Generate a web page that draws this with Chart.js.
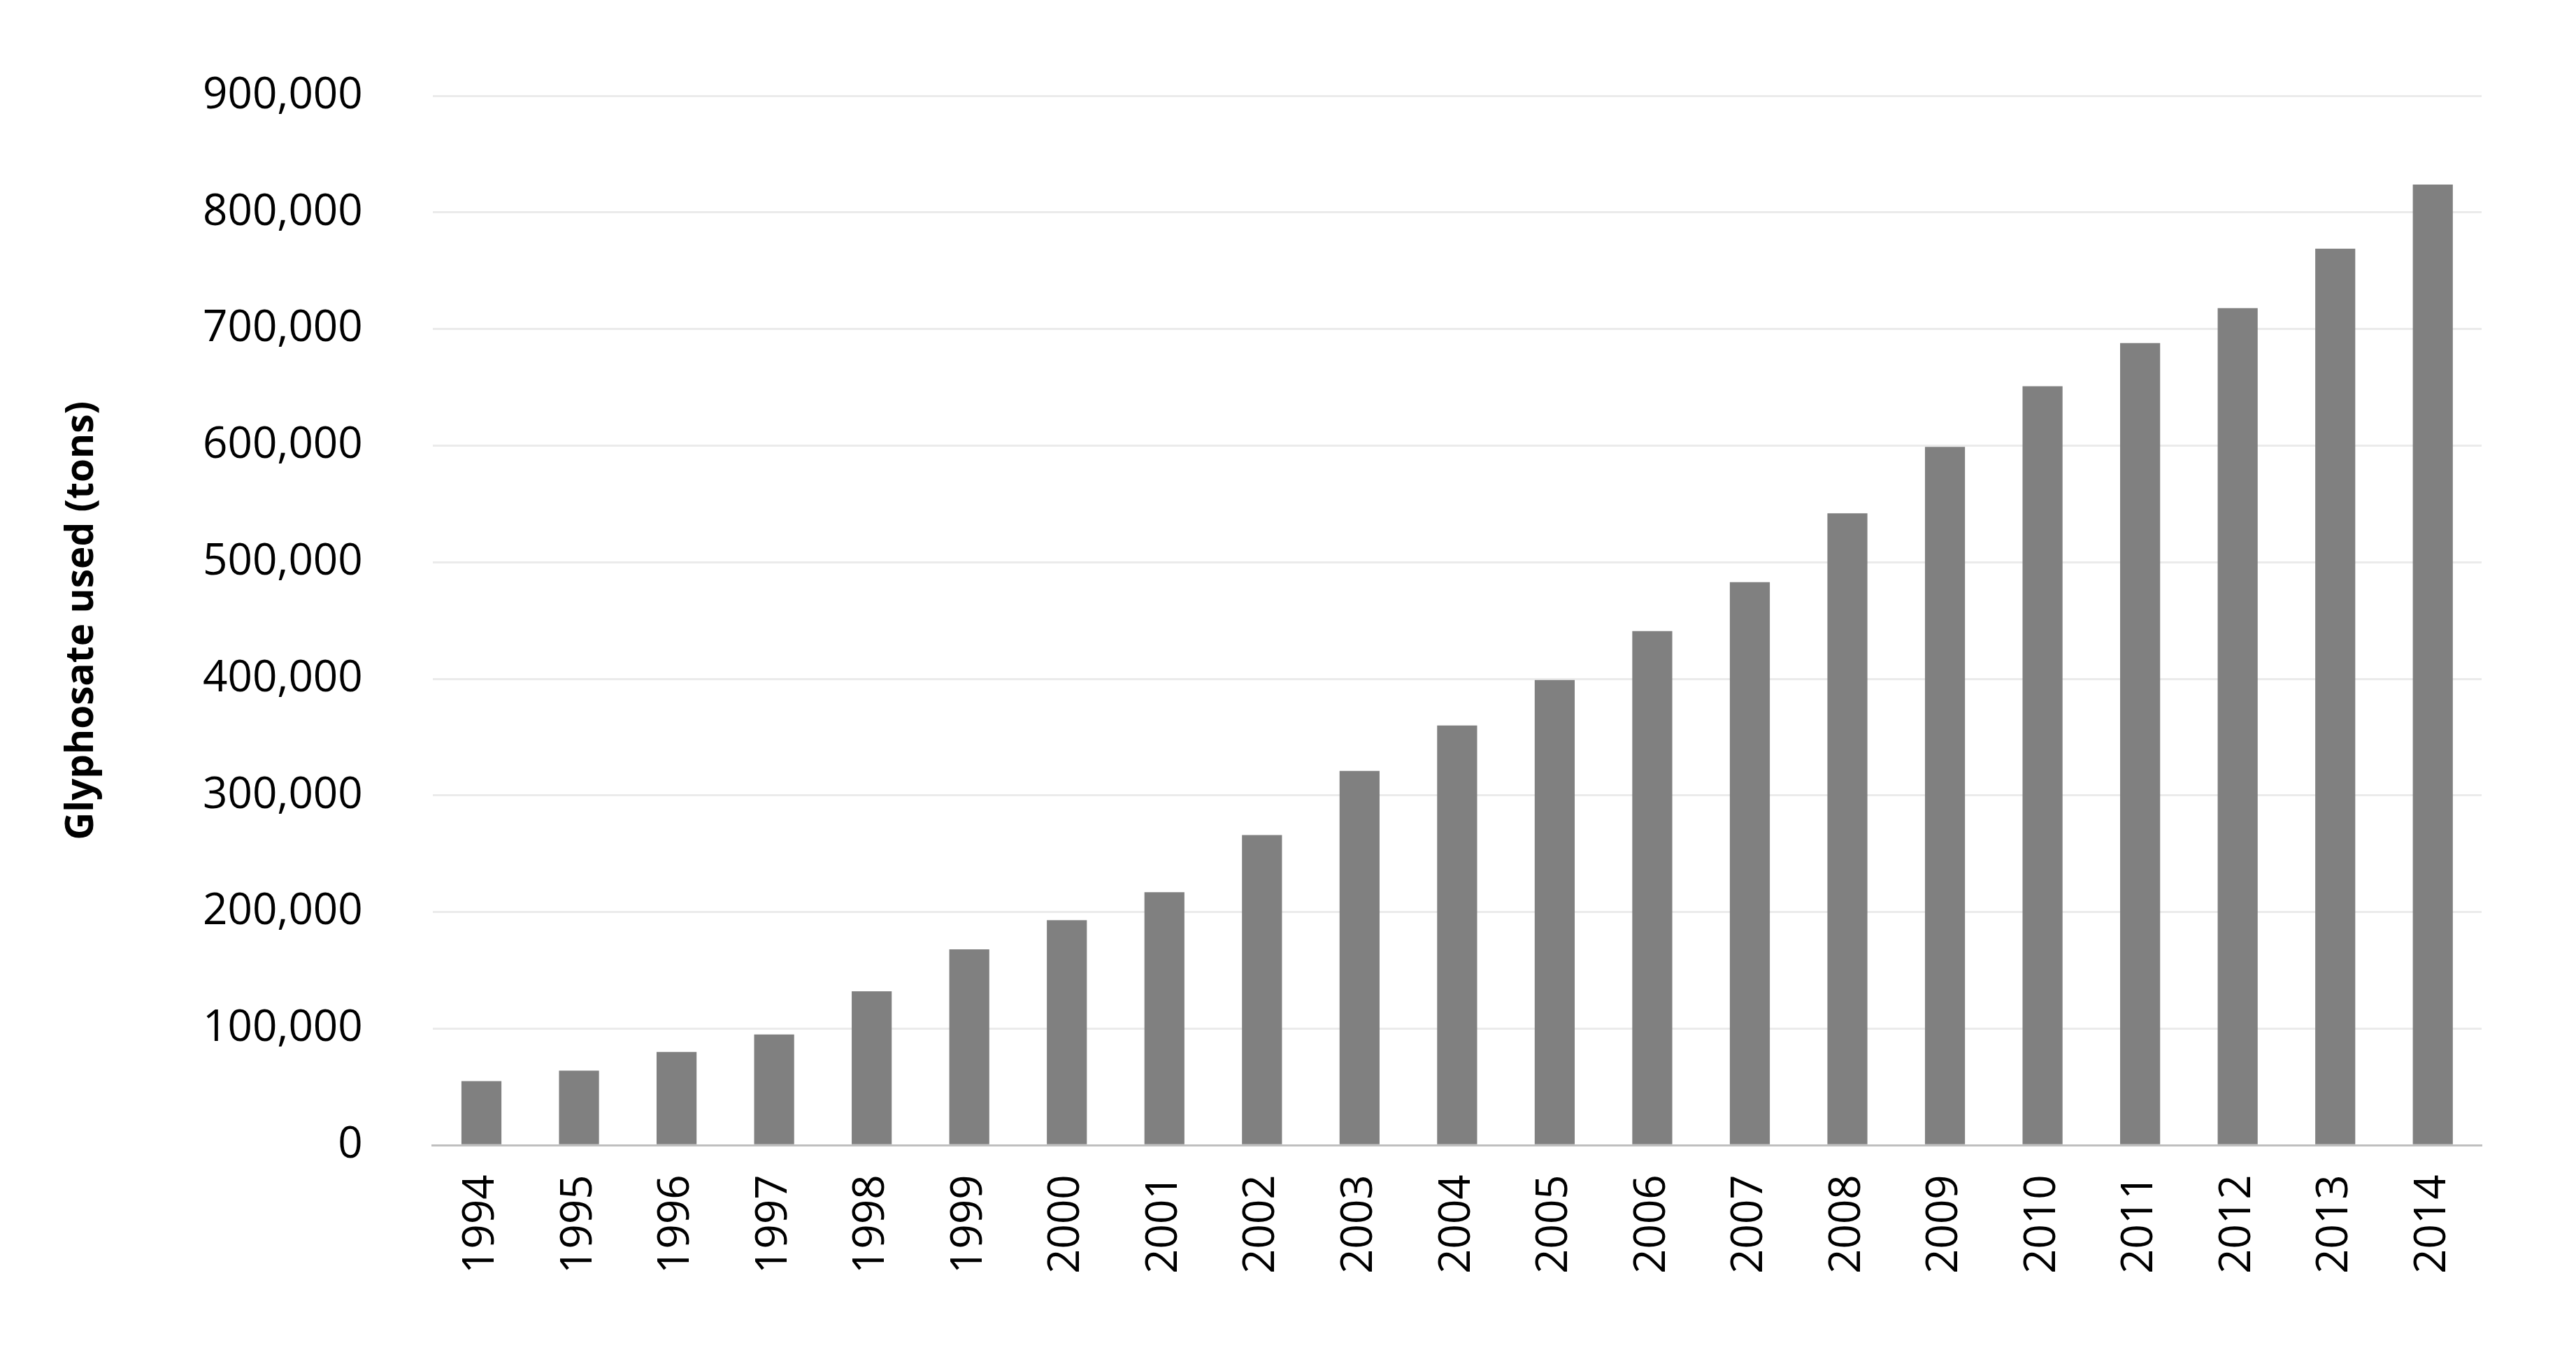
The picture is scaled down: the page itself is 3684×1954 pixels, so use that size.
<!DOCTYPE html>
<html>
<head>
<meta charset="utf-8">
<script src="https://cdn.jsdelivr.net/npm/chart.js@4"></script>
<style>
  html, body { margin: 0; padding: 0; background: #fff; }
  #wrap { width: 3684px; height: 1954px; }
</style>
</head>
<body>
<div id="wrap"><canvas id="c"></canvas></div>
<script>
// Glyphosate usage per year (tons)
var years = ["1994","1995","1996","1997","1998","1999","2000","2001","2002","2003","2004",
             "2005","2006","2007","2008","2009","2010","2011","2012","2013","2014"];
var tons = [55000, 64000, 80000, 95000, 132000, 168000, 193000, 217000, 266000, 321000, 360000,
            399000, 441000, 483000, 542000, 599000, 651000, 688000, 718000, 769000, 824000];
var yTicks = [0, 100000, 200000, 300000, 400000, 500000, 600000, 700000, 800000, 900000];

new Chart(document.getElementById("c").getContext("2d"), {
    type: "bar",
    data: {
        labels: years,
        datasets: [{ data: tons, backgroundColor: "#808080", borderWidth: 0,
                     categoryPercentage: 1.0, barPercentage: 0.41 }]
    },
    options: {
        responsive: true,
        maintainAspectRatio: false,
        animation: false,
        devicePixelRatio: 1,
        layout: { padding: { left: 80, right: 135, top: 124, bottom: 90 } },
        plugins: { legend: { display: false }, tooltip: { enabled: false } },
        scales: {
            x: {
                grid: { display: false, drawTicks: false },
                border: { color: "#bfbfbf", width: 3 },
                ticks: { color: "#000", minRotation: 90, maxRotation: 90, padding: 42,
                         font: { family: "Open Sans", size: 62 } }
            },
            y: {
                min: 0, max: 900000,
                afterBuildTicks: function (axis) { axis.ticks = yTicks.map(function (v) { return { value: v }; }); },
                grid: { color: "#ebebeb", lineWidth: 3, drawTicks: false },
                border: { display: false },
                title: { display: true, text: "Glyphosate used (tons)", color: "#000",
                         font: { family: "Open Sans", size: 55, weight: "bold" }, padding: { bottom: 40 } },
                ticks: { color: "#000", padding: 100,
                         font: { family: "Open Sans", size: 62 },
                         callback: function (v) { return v.toLocaleString("en-US"); } }
            }
        }
    }
});
</script>
</body>
</html>
